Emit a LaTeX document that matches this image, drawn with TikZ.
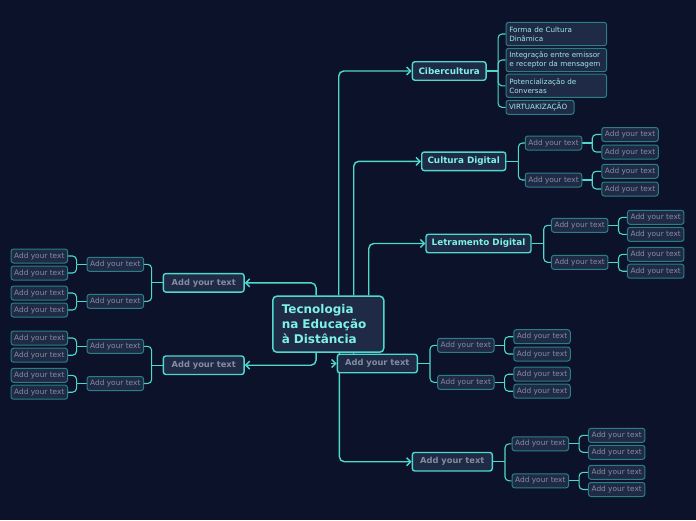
\documentclass[tikz,border=0pt]{standalone}
\usepackage{fontspec}
\setmainfont{DejaVu Sans}
\usetikzlibrary{arrows.meta}
\definecolor{bgc}{HTML}{0B1229}
\definecolor{nfill}{HTML}{1F2A46}
\definecolor{bright}{HTML}{4FD8CC}
\definecolor{dim}{HTML}{2B7F84}
\definecolor{ctext}{HTML}{7FF2E6}
\definecolor{gtext}{HTML}{878D9E}
\definecolor{ltext}{HTML}{9FE9E2}
\pgfdeclarelayer{back}
\pgfsetlayers{back,main}
\tikzset{
 base/.style={fill=nfill, inner sep=0pt, rounded corners=2.5pt, align=center},
 central/.style={base, draw=bright, line width=1.5pt, rounded corners=4pt, minimum width=111pt, minimum height=56pt, text=ctext, font=\fontsize{12}{15}\selectfont\bfseries, align=left, text width=93pt},
 topic/.style={base, draw=bright, line width=1.4pt, minimum height=18.5pt, text=ctext, font=\fontsize{8.8}{10}\selectfont\bfseries},
 ptopic/.style={base, draw=bright, line width=1.4pt, minimum width=80pt, minimum height=18.5pt, text=gtext, font=\fontsize{8.3}{10}\selectfont\bfseries},
 sub/.style={base, draw=dim, line width=1pt, minimum width=56.5pt, minimum height=14pt, text=gtext, font=\fontsize{7.4}{9}\selectfont},
 note/.style={base, draw=dim, line width=1pt, minimum width=100.5pt, minimum height=23.3pt, text=ltext, font=\fontsize{7.2}{9}\selectfont, align=left, text width=94pt},
 conn/.style={draw=bright, line width=1.4pt, rounded corners=5pt},
 arr/.style={conn, -{Straight Barb[length=4pt,width=8pt]}},
 br/.style={draw=bright, line width=1.1pt, rounded corners=4pt},
}
\newcommand\ayt[2]{\node[sub] (#1) at (#2) {Add your text};}
\newcommand\rbr[3]{\draw[br] (#1.east) -- ([xshift=#2]#1.east); \draw[br] ([xshift=#2]#1.east) |- (#3.west);}
\newcommand\lbr[3]{\draw[br] (#1.west) -- ([xshift=-#2]#1.west); \draw[br] ([xshift=-#2]#1.west) |- (#3.east);}
\begin{document}
\begin{tikzpicture}[x=1pt,y=-1pt]
\begin{pgfonlayer}{back}
\fill[bgc] (0,0) rectangle (696,520);
\end{pgfonlayer}
\useasboundingbox (0,0) rectangle (696,520);

% central
\node[central] (C) at (328.3,324.2) {Tecnologia\\na Educação\\à Distância};

% Cibercultura
\node[topic, minimum width=73.7pt] (cib) at (449.2,71) {Cibercultura};
\node[note] (c1) at (556.3,34) {Forma de Cultura\\Dinâmica};
\node[note] (c2) at (556.3,60) {Integração entre emissor\\e receptor da mensagem};
\node[note] (c3) at (556.3,85.8) {Potencialização de\\Conversas};
\node[note, minimum width=68pt, minimum height=14pt, text width=62pt] (c4) at (540,107.3) {VIRTUAKIZAÇÃO};

% Cultura Digital
\node[topic, minimum width=84pt] (cd) at (463.7,161.3) {Cultura Digital};
\ayt{cd1}{553.5,143} \ayt{cd2}{553.5,180}
\ayt{cd11}{630,134.5} \ayt{cd12}{630,152} \ayt{cd21}{630,171.3} \ayt{cd22}{630,189}

% Letramento Digital
\node[topic, minimum width=105pt] (ld) at (478.5,243.5) {Letramento Digital};
\ayt{ld1}{579.7,225.3} \ayt{ld2}{579.7,262.3}
\ayt{ld11}{655.7,217.3} \ayt{ld12}{655.7,234.3} \ayt{ld21}{655.7,254.3} \ayt{ld22}{655.7,271.2}

% middle right
\node[ptopic] (mid) at (377.3,363.5) {Add your text};
\ayt{md1}{465.8,345.3} \ayt{md2}{465.8,382.3}
\ayt{md11}{542,336.7} \ayt{md12}{542,354} \ayt{md21}{542,374.2} \ayt{md22}{542,391.2}

% bottom
\node[ptopic] (bt) at (452.3,461.7) {Add your text};
\ayt{bt1}{540.3,443.8} \ayt{bt2}{540.3,480.8}
\ayt{bt11}{616.7,435.3} \ayt{bt12}{616.7,452.3} \ayt{bt21}{616.7,472.3} \ayt{bt22}{616.7,489.5}

% left top
\node[ptopic, minimum width=80.7pt] (lt) at (203.7,282.8) {Add your text};
\ayt{lt1}{115.3,264.3} \ayt{lt2}{115.3,301.3}
\ayt{lt11}{39.3,256} \ayt{lt12}{39.3,273} \ayt{lt21}{39.3,293} \ayt{lt22}{39.3,310}

% left bottom
\node[ptopic, minimum width=80.7pt] (lb) at (203.7,365.2) {Add your text};
\ayt{lb1}{115.3,346.3} \ayt{lb2}{115.3,383.5}
\ayt{lb11}{39.3,338} \ayt{lb12}{39.3,355.2} \ayt{lb21}{39.3,375.3} \ayt{lb22}{39.3,392.2}

\coordinate (midin) at (331,363.5);

\begin{pgfonlayer}{back}
% main connectors
\draw[arr] ([xshift=66.7pt]C.north west) |- (cib.west);
\draw[arr] ([xshift=81.7pt]C.north west) |- (cd.west);
\draw[arr] ([xshift=96.7pt]C.north west) |- (ld.west);
\draw[arr] ([xshift=44pt]C.north west) |- (lt.east);
\draw[arr] ([xshift=44pt]C.south west) |- (lb.east);
\draw[arr] ([xshift=67.3pt]C.south west) |- (bt.west);
\draw[conn] ([xshift=81.7pt]C.south west) -- ([xshift=-23.3pt]mid.north);
\draw[arr] (midin) -- (mid.west);

% brackets
\rbr{cib}{11.3pt}{c1} \rbr{cib}{11.3pt}{c2} \rbr{cib}{11.3pt}{c3} \rbr{cib}{11.3pt}{c4}

\rbr{cd}{12pt}{cd1} \rbr{cd}{12pt}{cd2}
\rbr{cd1}{10pt}{cd11} \rbr{cd1}{10pt}{cd12} \rbr{cd2}{10pt}{cd21} \rbr{cd2}{10pt}{cd22}

\rbr{ld}{12pt}{ld1} \rbr{ld}{12pt}{ld2}
\rbr{ld1}{10pt}{ld11} \rbr{ld1}{10pt}{ld12} \rbr{ld2}{10pt}{ld21} \rbr{ld2}{10pt}{ld22}

\rbr{mid}{12pt}{md1} \rbr{mid}{12pt}{md2}
\rbr{md1}{10pt}{md11} \rbr{md1}{10pt}{md12} \rbr{md2}{10pt}{md21} \rbr{md2}{10pt}{md22}

\rbr{bt}{12pt}{bt1} \rbr{bt}{12pt}{bt2}
\rbr{bt1}{10pt}{bt11} \rbr{bt1}{10pt}{bt12} \rbr{bt2}{10pt}{bt21} \rbr{bt2}{10pt}{bt22}

\lbr{lt}{11pt}{lt1} \lbr{lt}{11pt}{lt2}
\lbr{lt1}{10pt}{lt11} \lbr{lt1}{10pt}{lt12} \lbr{lt2}{10pt}{lt21} \lbr{lt2}{10pt}{lt22}

\lbr{lb}{11pt}{lb1} \lbr{lb}{11pt}{lb2}
\lbr{lb1}{10pt}{lb11} \lbr{lb1}{10pt}{lb12} \lbr{lb2}{10pt}{lb21} \lbr{lb2}{10pt}{lb22}
\end{pgfonlayer}
\end{tikzpicture}
\end{document}
